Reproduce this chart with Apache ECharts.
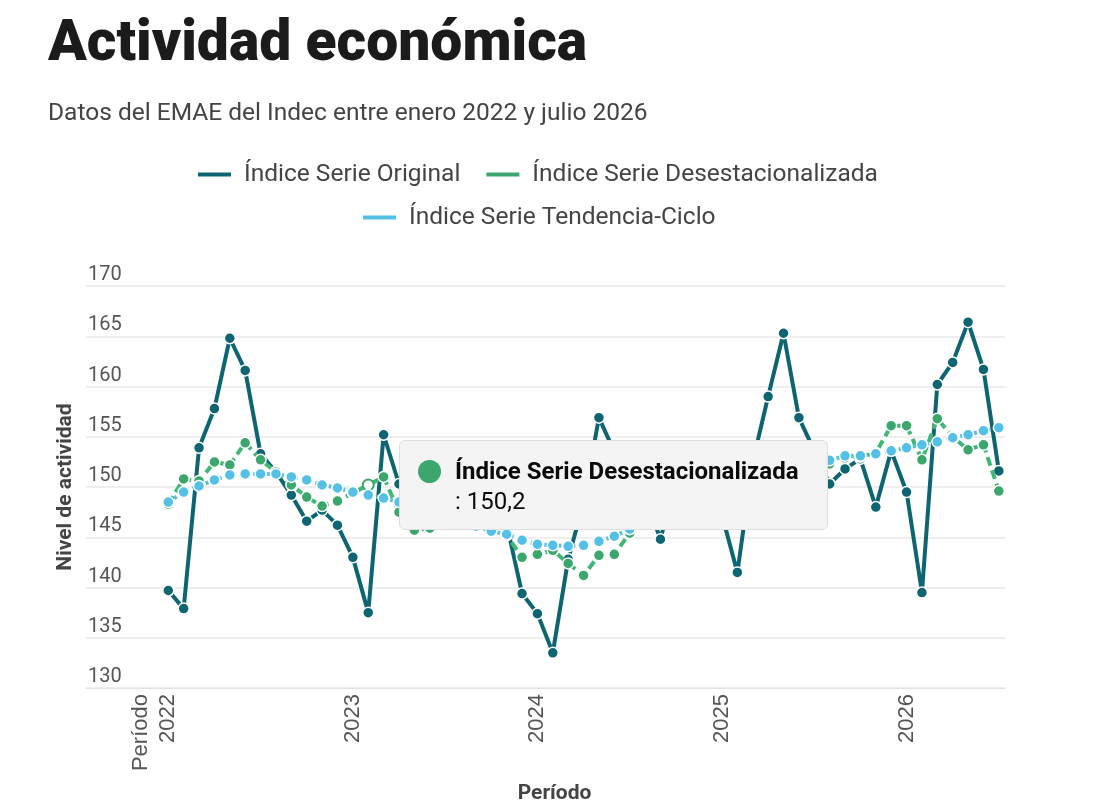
<!DOCTYPE html>
<html>
<head>
<meta charset="utf-8">
<script src="https://cdn.jsdelivr.net/npm/echarts@6/dist/echarts.min.js"></script>
<style>
  html, body { margin: 0; padding: 0; background: #fff; }
  #chart { width: 1093px; height: 809px; }
</style>
</head>
<body>
<div id="chart"></div>
<script>
// meses enero 2022 .. julio 2026
const months = [
  '2022-01','2022-02','2022-03','2022-04','2022-05','2022-06','2022-07','2022-08','2022-09','2022-10','2022-11','2022-12',
  '2023-01','2023-02','2023-03','2023-04','2023-05','2023-06','2023-07','2023-08','2023-09','2023-10','2023-11','2023-12',
  '2024-01','2024-02','2024-03','2024-04','2024-05','2024-06','2024-07','2024-08','2024-09','2024-10','2024-11','2024-12',
  '2025-01','2025-02','2025-03','2025-04','2025-05','2025-06','2025-07','2025-08','2025-09','2025-10','2025-11','2025-12',
  '2026-01','2026-02','2026-03','2026-04','2026-05','2026-06','2026-07'
];

const serieOriginal = [
  139.7, 137.9, 153.9, 157.8, 164.8, 161.6, 153.3, 151.5, 149.2, 146.6, 147.7, 146.2,
  143.0, 137.5, 155.2, 150.3, 148.2, 148.6, 150.1, 149.0, 147.2, 148.4, 146.3, 139.4,
  137.4, 133.5, 142.8, 148.5, 156.9, 153.5, 150.2, 149.0, 144.8, 150.8, 151.6, 150.0,
  147.2, 141.5, 152.5, 159.0, 165.3, 156.9, 153.6, 150.3, 151.8, 152.8, 148.0, 153.6,
  149.5, 139.5, 160.2, 162.4, 166.4, 161.7, 151.6
];

const serieDesest = [
  148.3, 150.8, 150.6, 152.5, 152.2, 154.4, 152.7, 151.5, 150.2, 149.0, 148.1, 148.6,
  149.4, 150.2, 151.0, 147.5, 145.7, 145.9, 146.5, 146.8, 146.3, 145.9, 145.2, 143.0,
  143.3, 143.7, 142.4, 141.2, 143.2, 143.3, 145.4, 146.8, 147.9, 148.8, 149.6, 150.5,
  151.2, 151.9, 152.3, 151.7, 152.6, 152.0, 152.4, 152.3, 152.9, 153.0, 153.4, 156.1,
  156.1, 152.7, 156.8, 155.0, 153.7, 154.2, 149.6
];

const serieTendencia = [
  148.5, 149.5, 150.1, 150.7, 151.2, 151.3, 151.3, 151.3, 151.0, 150.7, 150.2, 149.9,
  149.5, 149.2, 148.9, 148.5, 148.1, 147.6, 147.1, 146.6, 146.1, 145.6, 145.3, 144.7,
  144.3, 144.2, 144.1, 144.2, 144.6, 145.1, 145.8, 146.5, 147.3, 148.0, 148.7, 149.3,
  149.9, 150.4, 150.9, 151.4, 151.8, 152.1, 152.4, 152.65, 153.1, 153.1, 153.3, 153.6,
  153.9, 154.2, 154.5, 154.9, 155.2, 155.6, 155.9
];

const seriesNames = ['Índice Serie Original', 'Índice Serie Desestacionalizada', 'Índice Serie Tendencia-Ciclo'];
const yearTicks = ['2022-01', '2023-01', '2024-01', '2025-01', '2026-01'];
const periodTickLabel = 'Período';

const COLORS = ['#0d6571', '#3ba76c', '#54c0e6'];
const PERIOD_POS = -1.8; // posición (en meses) de la etiqueta "Período"

function idx(m) { return months.indexOf(m); }
function pairs(vals) { return months.map((m, i) => [i, vals[i]]); }
function fmtNum(v) { return v.toFixed(1).replace('.', ','); }

const el = document.getElementById('chart');
const chart = echarts.init(el, null, { renderer: 'canvas' });

function lineSeries(i, vals, lineType) {
  return {
    name: seriesNames[i],
    type: 'line',
    data: pairs(vals),
    symbol: 'circle',
    symbolSize: 11,
    showAllSymbol: true,
    lineStyle: { color: COLORS[i], width: 4, type: lineType },
    itemStyle: { color: COLORS[i], borderColor: '#fff', borderWidth: 1.5 },
    emphasis: {
      scale: false,
      lineStyle: { width: 4 },
      itemStyle: { color: '#fff', borderColor: COLORS[i], borderWidth: 2 }
    },
    z: 2 + i
  };
}

const legendText = { fontSize: 24.5, color: '#444', padding: [0, 0, 0, 7] };

const option = {
  animation: false,
  color: COLORS,
  textStyle: { fontFamily: 'Roboto' },
  title: [
    {
      text: 'Actividad económica', left: 43, top: 12,
      textStyle: { fontSize: 57, fontWeight: 900, color: '#1b1b1b', fontFamily: 'Roboto' }
    },
    {
      text: 'Datos del EMAE del Indec entre enero 2022 y julio 2026', left: 43, top: 96,
      textStyle: { fontSize: 24.5, fontWeight: 'normal', color: '#444', fontFamily: 'Roboto' }
    }
  ],
  legend: [
    {
      data: [seriesNames[0], seriesNames[1]], top: 157, left: 191,
      icon: 'rect', itemWidth: 35, itemHeight: 6, itemGap: 24,
      textStyle: legendText
    },
    {
      data: [seriesNames[2]], top: 200, left: 356,
      icon: 'rect', itemWidth: 35, itemHeight: 6,
      textStyle: legendText
    }
  ],
  tooltip: {
    trigger: 'item',
    triggerOn: 'none',
    alwaysShowContent: true,
    transitionDuration: 0,
    backgroundColor: '#f4f4f4',
    borderColor: '#dedede',
    borderWidth: 1,
    padding: [15, 22, 13, 18],
    extraCssText: 'border-radius:6px;box-shadow:none;width:387px;',
    position: () => [399, 440],
    formatter: p =>
      '<div style="display:flex;align-items:flex-start;font-family:Roboto;color:#0a0a0a;font-size:24px;line-height:30px">' +
      '<span style="display:inline-block;width:23px;height:23px;border-radius:50%;background:' + p.color +
      ';margin:4px 14px 0 0;flex:none"></span>' +
      '<div style="white-space:nowrap"><b style="font-weight:700">' + p.seriesName + '</b><br>: ' + fmtNum(p.value[1]) + '</div></div>'
  },
  grid: { left: 86, right: 88, top: 286, bottom: 116, containLabel: false },
  xAxis: {
    type: 'value',
    min: -5.35,
    max: 54.4,
    name: 'Período',
    nameLocation: 'middle',
    nameGap: 95,
    nameMoveOverlap: false,
    nameTextStyle: { fontSize: 21, fontWeight: 'bold', color: '#444', padding: [0, 0, 0, 18] },
    axisLine: { show: true, lineStyle: { color: '#e3e3e3', width: 1 } },
    axisTick: { show: false },
    splitLine: { show: false },
    axisLabel: {
      customValues: [PERIOD_POS].concat(yearTicks.map(idx)),
      rotate: 90,
      margin: 6,
      fontSize: 22,
      fontFamily: 'Liberation Sans',
      color: '#555',
      formatter: v => (v === PERIOD_POS ? periodTickLabel : months[v].slice(0, 4))
    }
  },
  yAxis: {
    type: 'value',
    min: 130, max: 170, interval: 5,
    name: 'Nivel de actividad',
    nameLocation: 'middle',
    nameGap: 10,
    nameMoveOverlap: false,
    nameTextStyle: { fontSize: 21, fontWeight: 'bold', color: '#444' },
    axisLine: { show: false },
    axisTick: { show: false },
    splitLine: { lineStyle: { color: '#e8e8e8', width: 1.5 } },
    axisLabel: {
      inside: true, margin: 2, verticalAlign: 'bottom', padding: [0, 0, 1, 0],
      fontSize: 20, color: '#555'
    }
  },
  series: [
    lineSeries(0, serieOriginal, 'solid'),
    lineSeries(1, serieDesest, [9, 5]),
    lineSeries(2, serieTendencia, [3, 4])
  ]
};

chart.setOption(option);
chart.dispatchAction({ type: 'highlight', seriesIndex: 1, dataIndex: 13 });
chart.dispatchAction({ type: 'showTip', seriesIndex: 1, dataIndex: 13 });
</script>
</body>
</html>
